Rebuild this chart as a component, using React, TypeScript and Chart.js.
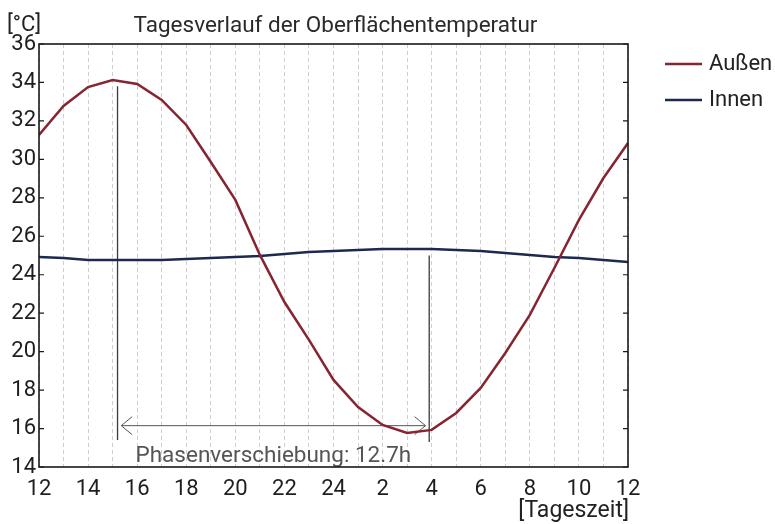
import React, { useEffect, useRef } from 'react';
import { Chart, registerables } from 'chart.js';

Chart.register(...registerables);

// ---- data ----
const hours = [12, 13, 14, 15, 16, 17, 18, 19, 20, 21, 22, 23, 24, 25, 26, 27, 28, 29, 30, 31, 32, 33, 34, 35, 36];
const outside = [31.27, 32.78, 33.76, 34.13, 33.92, 33.09, 31.79, 29.86, 27.89, 25.03, 22.58, 20.61, 18.53, 17.12, 16.19, 15.77, 15.93, 16.81, 18.11, 19.93, 21.91, 24.35, 26.85, 29.03, 30.85];
const inside = [24.92, 24.87, 24.77, 24.77, 24.77, 24.77, 24.82, 24.87, 24.92, 24.98, 25.08, 25.18, 25.24, 25.29, 25.34, 25.34, 25.34, 25.29, 25.24, 25.13, 25.03, 24.92, 24.87, 24.77, 24.66];
const xTickLabels = ['12', '14', '16', '18', '20', '22', '24', '2', '4', '6', '8', '10', '12'];
const seriesNames = ['Außen', 'Innen'];
const yMin = 14;
const yMax = 36;
const yStep = 2;
const titleText = 'Tagesverlauf der Oberflächentemperatur';
const yUnit = '[°C]';
const xUnit = '[Tageszeit]';
// phase-shift annotation
const phaseLabel = 'Phasenverschiebung: 12.7h';
const startLine = { x: 15.2, y1: 33.8, y2: 15.4 };
const endLine = { x: 27.9, y1: 25.0, y2: 15.3 };
const arrow = { x1: 15.35, x2: 27.75, y: 16.15 };

const RED = '#862431';
const BLUE = '#1c2a52';
const FONT = 'Roboto';

const overlay = {
  id: 'overlay',
  beforeDatasetsDraw(chart: any) {
    const { ctx, chartArea: a, scales } = chart;
    const xs = scales.x, ys = scales.y;
    ctx.save();
    // annotation vertical lines
    ctx.strokeStyle = '#3a3a3a';
    ctx.lineWidth = 1.3;
    for (const l of [startLine, endLine]) {
      const px = xs.getPixelForValue(l.x);
      ctx.beginPath();
      ctx.moveTo(px, ys.getPixelForValue(l.y1));
      ctx.lineTo(px, ys.getPixelForValue(l.y2));
      ctx.stroke();
    }
    // arrow
    const ax1 = xs.getPixelForValue(arrow.x1);
    const ax2 = xs.getPixelForValue(arrow.x2);
    const ay = ys.getPixelForValue(arrow.y);
    ctx.strokeStyle = '#555';
    ctx.lineWidth = 1;
    ctx.beginPath();
    ctx.moveTo(ax1, ay);
    ctx.lineTo(ax2, ay);
    ctx.moveTo(ax1 + 11, ay - 9);
    ctx.lineTo(ax1, ay);
    ctx.lineTo(ax1 + 11, ay + 9);
    ctx.moveTo(ax2 - 11, ay - 9);
    ctx.lineTo(ax2, ay);
    ctx.lineTo(ax2 - 11, ay + 9);
    ctx.stroke();
    // label
    ctx.fillStyle = '#555';
    ctx.font = `22.5px ${FONT}`;
    ctx.textAlign = 'center';
    ctx.textBaseline = 'alphabetic';
    ctx.fillText(phaseLabel, (ax1 + ax2) / 2, a.bottom - 5);
    ctx.restore();
  },
  afterDraw(chart: any) {
    const { ctx, chartArea: a, scales } = chart;
    const ys = scales.y;
    ctx.save();
    // box
    ctx.strokeStyle = '#1a1a1a';
    ctx.lineWidth = 1.6;
    ctx.strokeRect(a.left, a.top, a.right - a.left, a.bottom - a.top);
    // inward ticks
    ctx.lineWidth = 1.2;
    for (let v = yMin; v <= yMax; v += yStep) {
      const py = ys.getPixelForValue(v);
      ctx.beginPath();
      ctx.moveTo(a.left, py);
      ctx.lineTo(a.left + 5, py);
      ctx.moveTo(a.right, py);
      ctx.lineTo(a.right - 5, py);
      ctx.stroke();
    }
    // title
    ctx.fillStyle = '#2a2a2a';
    ctx.font = `22.5px ${FONT}`;
    ctx.textAlign = 'center';
    ctx.textBaseline = 'alphabetic';
    ctx.fillText(titleText, (a.left + a.right) / 2 + 2, 32);
    // units
    ctx.fillStyle = '#222';
    ctx.font = `22px ${FONT}`;
    ctx.textAlign = 'left';
    ctx.fillText(yUnit, 7, 31);
    ctx.font = `23px ${FONT}`;
    ctx.textAlign = 'right';
    ctx.fillText(xUnit, a.right + 1, 517);
    // legend
    const colors = [RED, BLUE];
    const rows = [64, 100];
    ctx.font = `22px ${FONT}`;
    ctx.textAlign = 'left';
    ctx.textBaseline = 'middle';
    seriesNames.forEach((name, i) => {
      ctx.strokeStyle = colors[i];
      ctx.lineWidth = 2.5;
      ctx.beginPath();
      ctx.moveTo(665, rows[i]);
      ctx.lineTo(702, rows[i]);
      ctx.stroke();
      ctx.fillStyle = '#222';
      ctx.fillText(name, 709, rows[i]);
    });
    ctx.restore();
  },
};

export default function App() {
  const ref = useRef<HTMLCanvasElement>(null);
  useEffect(() => {
    document.body.style.margin = '0';
    const canvas = ref.current!;
    const chart = new Chart(canvas, {
      type: 'line',
      data: {
        datasets: [
          {
            label: seriesNames[0],
            data: hours.map((h, i) => ({ x: h, y: outside[i] })),
            borderColor: RED,
            borderWidth: 2.5,
            pointRadius: 0,
            tension: 0,
          },
          {
            label: seriesNames[1],
            data: hours.map((h, i) => ({ x: h, y: inside[i] })),
            borderColor: BLUE,
            borderWidth: 2.5,
            pointRadius: 0,
            tension: 0,
          },
        ],
      },
      options: {
        responsive: false,
        animation: false,
        layout: { padding: { top: 44, right: 147, left: 0, bottom: 0 } },
        plugins: { legend: { display: false }, title: { display: false }, tooltip: { enabled: false } },
        scales: {
          x: {
            type: 'linear',
            min: 12,
            max: 36,
            afterFit: (s: any) => { s.height = 57; },
            border: { display: false, dash: [4, 3] },
            grid: { color: '#cfcfcf', lineWidth: 1, drawTicks: false },
            ticks: {
              stepSize: 1,
              autoSkip: false,
              maxRotation: 0,
              padding: 9,
              color: '#1e1e1e',
              font: { family: FONT, size: 22 },
              callback: (v: any) => {
                const n = Number(v);
                return n % 2 === 0 ? xTickLabels[(n - 12) / 2] : '';
              },
            },
          },
          y: {
            min: yMin,
            max: yMax,
            afterFit: (s: any) => { s.width = 39; },
            border: { display: false },
            grid: { display: false, drawTicks: false },
            ticks: {
              stepSize: yStep,
              padding: 3,
              color: '#1e1e1e',
              font: { family: FONT, size: 22 },
            },
          },
        },
      },
      plugins: [overlay],
    });
    return () => chart.destroy();
  }, []);
  return <canvas ref={ref} width={775} height={524} style={{ display: 'block' }} />;
}
